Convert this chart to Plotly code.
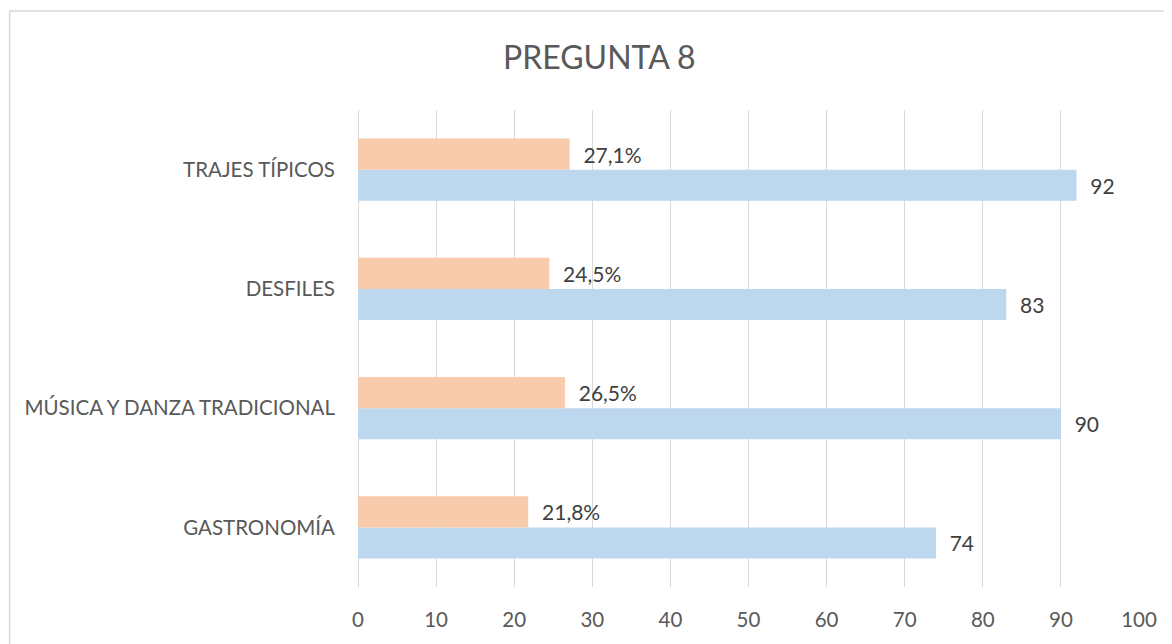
import plotly.graph_objects as go

categories = ["GASTRONOMÍA", "MÚSICA Y DANZA TRADICIONAL", "DESFILES", "TRAJES TÍPICOS"]
counts = [74, 90, 83, 92]
percents = [21.8, 26.5, 24.5, 27.1]
percent_labels = ["21,8%", "26,5%", "24,5%", "27,1%"]
x_ticks = [0, 10, 20, 30, 40, 50, 60, 70, 80, 90, 100]

FONT = "Lato"
fig = go.Figure()
fig.add_trace(go.Bar(
    y=categories, x=counts, orientation="h",
    marker=dict(color="#bdd7ee", line=dict(width=0)),
    text=["  " + str(v) for v in counts], textposition="outside",
    textfont=dict(size=21, color="#404040", family=FONT),
    constraintext="none", cliponaxis=False, showlegend=False,
))
fig.add_trace(go.Bar(
    y=categories, x=percents, orientation="h",
    marker=dict(color="#f8cbad", line=dict(width=0)),
    text=["  " + t for t in percent_labels], textposition="outside",
    textfont=dict(size=21, color="#404040", family=FONT),
    constraintext="none", cliponaxis=False, showlegend=False,
))

fig.update_layout(
    width=1164, height=636,
    barmode="group", bargap=0.48, bargroupgap=0,
    margin=dict(l=350, r=33, t=102, b=57),
    paper_bgcolor="white", plot_bgcolor="white",
    title=dict(text="PREGUNTA 8", x=0.508, xanchor="center", y=0.922, yanchor="middle",
               font=dict(size=32, color="#595959", family=FONT)),
    font=dict(family=FONT, color="#595959"),
    xaxis=dict(range=[0, 100], tickvals=x_ticks, showgrid=True, gridcolor="#d9d9d9",
               gridwidth=1.3, zeroline=True, zerolinecolor="#d9d9d9", zerolinewidth=1.3,
               showline=False, ticks="", tickfont=dict(size=20.5, color="#595959", family=FONT),
               ticklabelstandoff=18),
    yaxis=dict(showgrid=False, showline=False, ticks="", ticklabelstandoff=22,
               tickfont=dict(size=20.5, color="#595959", family=FONT)),
    shapes=[dict(type="rect", xref="paper", yref="paper", x0=-0.446, x1=1.2,
                 y0=-0.3, y1=1.2075, line=dict(color="#d9d9d9", width=1.5),
                 fillcolor="rgba(0,0,0,0)", layer="below")],
)

fig.write_html("out.html")
